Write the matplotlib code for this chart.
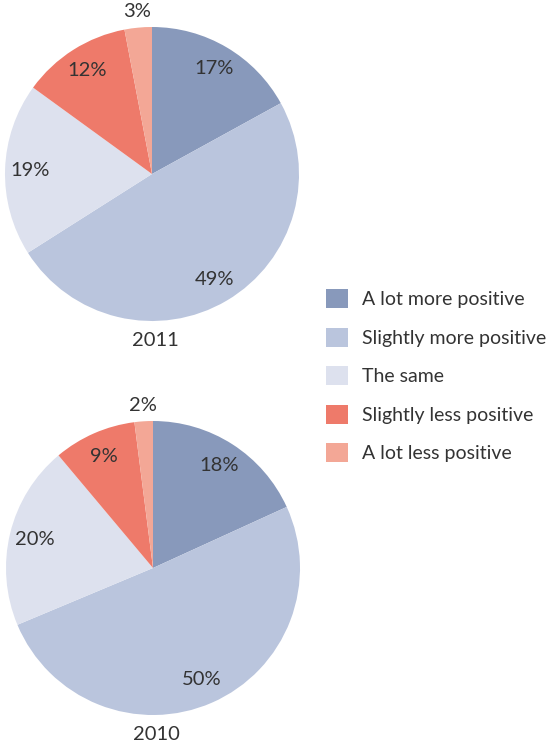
import numpy as np
import matplotlib
matplotlib.use('Agg')
import matplotlib.pyplot as plt

categories = ['A lot more positive', 'Slightly more positive', 'The same',
              'Slightly less positive', 'A lot less positive']
values_2011 = [17, 49, 19, 12, 3]
values_2010 = [18, 50, 20, 9, 2]
years = ['2011', '2010']

colors = ['#8899bb', '#bac5dd', '#dde1ee', '#ee7a6a', '#f3a796']
txt = '#333333'
plt.rcParams['font.family'] = ['Lato', 'DejaVu Sans']

fig = plt.figure(figsize=(5.49, 7.45), dpi=100)
W, H = 549, 745


def draw_pie(cx, cy, r, vals, year):
    ax = fig.add_axes([(cx - r) / W, (H - cy - r) / H, 2 * r / W, 2 * r / H])
    wedges, _ = ax.pie(vals, colors=colors, startangle=90, counterclock=False,
                       wedgeprops=dict(linewidth=0), radius=1)
    ax.set_xlim(-1, 1)
    ax.set_ylim(-1, 1)
    ax.axis('off')
    total = sum(vals)
    for w, v in zip(wedges, vals):
        mid = np.deg2rad((w.theta1 + w.theta2) / 2)
        d = 1.11 if v / total < 0.05 else 0.83
        ax.text(d * np.cos(mid), d * np.sin(mid), f'{v}%', ha='center', va='center',
                fontsize=14.5, color=txt, clip_on=False)
    ax.text(0.02, -1.13, year, ha='center', va='center', fontsize=14.5, color=txt,
            clip_on=False)
    return wedges


w1 = draw_pie(152, 174, 147, values_2011, years[0])
draw_pie(153, 568, 147, values_2010, years[1])

leg = fig.legend(w1, categories, loc='upper left', bbox_to_anchor=(326 / W, 1 - 289 / H),
                 frameon=False, fontsize=14, handlelength=1.13, handleheight=1.13,
                 handletextpad=0.72, labelspacing=1.0, borderpad=0, borderaxespad=0,
                 labelcolor=txt)

fig.savefig('out.png', dpi=100)
